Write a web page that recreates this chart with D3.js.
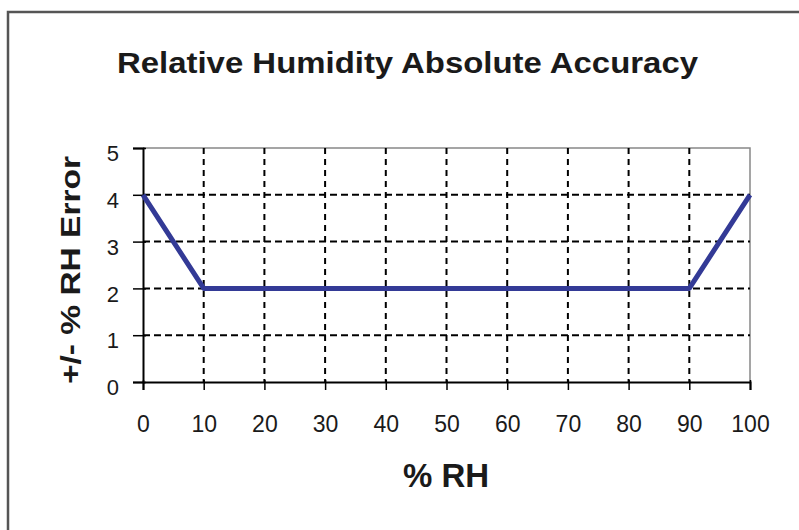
<!DOCTYPE html>
<html lang="en">
	<head>
		<meta charset="utf-8">
		<title>Relative Humidity Absolute Accuracy</title>
		<script src="https://d3js.org/d3.v7.min.js"></script>
		<style type="text/css">
			body { margin: 0; background: #fff; }
			text { font-family: "Liberation Sans", Arial, sans-serif; fill: #1a1a1a; }
		</style>
	</head>
	<body>
		<script type="text/javascript">
			// data
			var rh = [0, 10, 90, 100];
			var rhError = [4, 2, 2, 4];
			var xTicks = [0, 10, 20, 30, 40, 50, 60, 70, 80, 90, 100];
			var yTicks = [0, 1, 2, 3, 4, 5];

			var w = 799;
			var h = 530;
			var padLeft = 143, padRight = 750, padTop = 148, padBottom = 382;

			var svg = d3.select("body")
						.append("svg")
						.attr("width", w)
						.attr("height", h);

			svg.append("rect")
				.attr("width", w).attr("height", h)
				.attr("fill", "#fff");

			// frame (only top and left edges show)
			svg.append("path")
				.attr("d", "M8," + h + "V12H" + w)
				.attr("fill", "none")
				.attr("stroke", "#555")
				.attr("stroke-width", 2.5);

			var x = d3.scaleLinear().domain([0, 100]).range([padLeft, padRight]);
			var y = d3.scaleLinear().domain([0, 5]).range([padBottom, padTop]);

			// plot area border (gray, top + right)
			svg.append("path")
				.attr("d", "M" + padLeft + "," + y(5) + "H" + x(100) + "V" + y(0))
				.attr("fill", "none")
				.attr("stroke", "#888")
				.attr("stroke-width", 1.5);

			// dashed grid
			svg.append("g").selectAll("line")
				.data(yTicks.slice(1, -1))
				.enter().append("line")
				.attr("x1", x(0)).attr("x2", x(100))
				.attr("y1", function(d) { return y(d); })
				.attr("y2", function(d) { return y(d); })
				.attr("stroke", "#000")
				.attr("stroke-width", 2)
				.attr("stroke-dasharray", "7,4");

			svg.append("g").selectAll("line")
				.data(xTicks.slice(1, -1))
				.enter().append("line")
				.attr("x1", function(d) { return x(d); })
				.attr("x2", function(d) { return x(d); })
				.attr("y1", y(5)).attr("y2", y(0))
				.attr("stroke", "#000")
				.attr("stroke-width", 2)
				.attr("stroke-dasharray", "6,5");

			// axes
			var yAxis = svg.append("g")
				.attr("transform", "translate(" + padLeft + ",0)")
				.call(d3.axisLeft(y).tickValues(yTicks).tickFormat(d3.format("d")).tickSize(10).tickPadding(14));
			yAxis.selectAll("line").attr("x2", -10).attr("x1", 3).attr("stroke", "#000").attr("stroke-width", 1.5);
			yAxis.select(".domain").attr("stroke", "#000").attr("stroke-width", 2);
			yAxis.selectAll("text")
				.attr("font-size", "22px")
				.attr("font-family", "Liberation Sans, Arial, sans-serif")
				.attr("dy", "0.85em")
				.attr("y", -6)
				.attr("fill", "#222");

			var xAxis = svg.append("g")
				.attr("transform", "translate(0," + padBottom + ")")
				.call(d3.axisBottom(x).tickValues(xTicks).tickSize(8).tickPadding(26));
			xAxis.selectAll("line").attr("y1", -2).attr("stroke", "#000").attr("stroke-width", 1.5);
			xAxis.select(".domain").attr("stroke", "#000").attr("stroke-width", 2);
			xAxis.selectAll("text")
				.attr("font-size", "23px")
				.attr("font-family", "Liberation Sans, Arial, sans-serif")
				.attr("fill", "#222");

			// the accuracy line
			var line = d3.line()
				.x(function(d, i) { return x(rh[i]); })
				.y(function(d) { return y(d); });

			svg.append("path")
				.datum(rhError)
				.attr("d", line)
				.attr("fill", "none")
				.attr("stroke", "#333a96")
				.attr("stroke-width", 5)
				.attr("stroke-linejoin", "round");

			// titles
			svg.append("text")
				.attr("x", 117).attr("y", 73)
				.attr("font-size", "29px")
				.attr("font-weight", "bold")
				.attr("textLength", 581)
				.attr("lengthAdjust", "spacingAndGlyphs")
				.text("Relative Humidity Absolute Accuracy");

			svg.append("text")
				.attr("transform", "translate(80,270) rotate(-90)")
				.attr("text-anchor", "middle")
				.attr("font-size", "28px")
				.attr("font-weight", "bold")
				.attr("textLength", 228)
				.attr("lengthAdjust", "spacingAndGlyphs")
				.text("+/- % RH Error");

			svg.append("text")
				.attr("x", 446).attr("y", 487)
				.attr("text-anchor", "middle")
				.attr("font-size", "33px")
				.attr("font-weight", "bold")
				.text("% RH");
		</script>
	</body>
</html>
